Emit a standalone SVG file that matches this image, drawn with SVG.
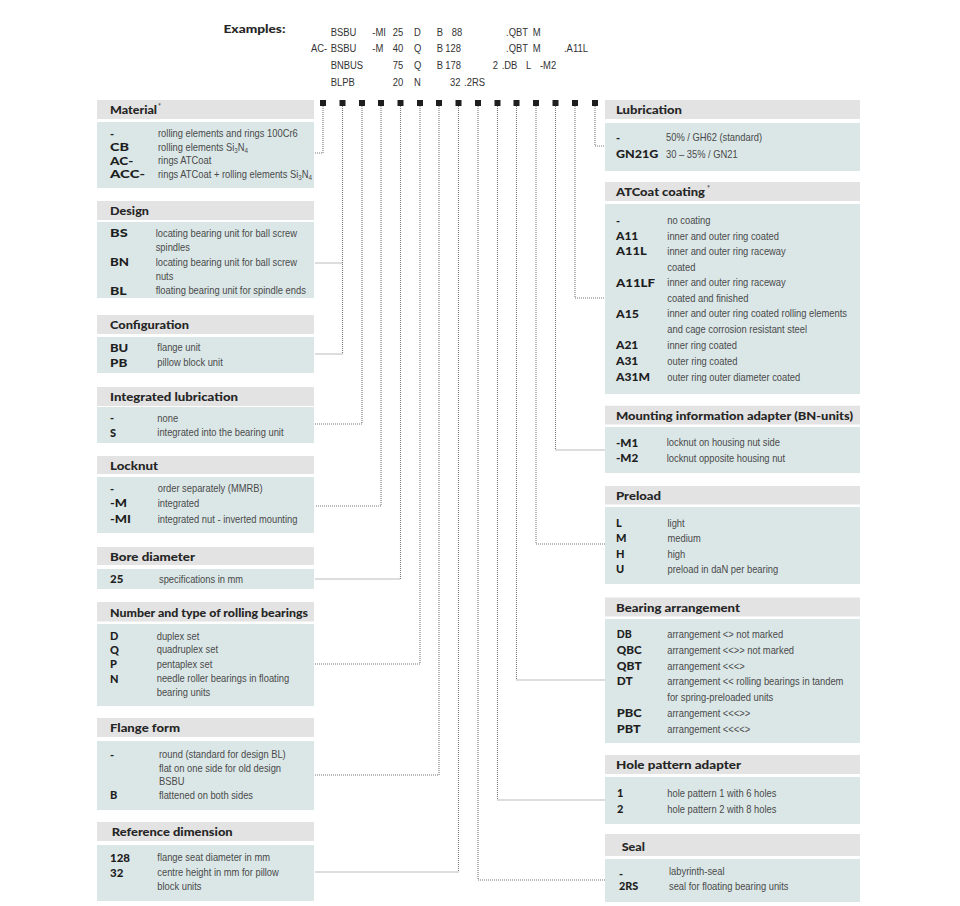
<svg xmlns="http://www.w3.org/2000/svg" width="960" height="906" viewBox="0 0 960 906">
<style>
.hd{fill:#e3e3e3}
.bd{fill:#dbe7e7}
.ht{font-family:Lato,"Open Sans","DejaVu Sans",sans-serif;font-weight:900;font-size:11px;fill:#262626}
.cd{font-family:Lato,"Open Sans","DejaVu Sans",sans-serif;font-weight:900;font-size:11px;fill:#1e1e1e}
.ds text{font-family:"Liberation Sans",Arial,sans-serif;font-size:10.4px;fill:#4a4a4a}
.ex{font-family:"Liberation Sans",Arial,sans-serif;font-size:11.5px;fill:#333}
.st{font-family:Lato,sans-serif;font-weight:900;font-size:7px;fill:#555}
.cn{stroke:#777;stroke-width:1.1;stroke-dasharray:1 1;fill:none}
.sq{fill:#1e1e1e}
</style>

<g id="examples">
<text x="223.5" y="33" class="ht" textLength="62" lengthAdjust="spacingAndGlyphs">Examples:</text>
<g transform="scale(0.82 1)">
<text class="ex" y="36"><tspan x="403.3">BSBU</tspan><tspan x="454">-MI</tspan><tspan x="478.9">25</tspan><tspan x="504.9">D</tspan><tspan x="532.6">B</tspan><tspan x="550.9">88</tspan><tspan x="617.1">.QBT</tspan><tspan x="649.6">M</tspan></text>
<text class="ex" y="52.5"><tspan x="379.3">AC-</tspan><tspan x="403.3">BSBU</tspan><tspan x="454">-M</tspan><tspan x="478.9">40</tspan><tspan x="504.9">Q</tspan><tspan x="532.6">B</tspan><tspan x="543">128</tspan><tspan x="617.1">.QBT</tspan><tspan x="649.6">M</tspan><tspan x="687.8">.A11L</tspan></text>
<text class="ex" y="69.5"><tspan x="403.3">BNBUS</tspan><tspan x="478.9">75</tspan><tspan x="504.9">Q</tspan><tspan x="532.6">B</tspan><tspan x="543">178</tspan><tspan x="600.9">2</tspan><tspan x="611.8">.DB</tspan><tspan x="641.5">L</tspan><tspan x="658.5">-M2</tspan></text>
<text class="ex" y="86"><tspan x="403.3">BLPB</tspan><tspan x="478.9">20</tspan><tspan x="504.9">N</tspan><tspan x="548.8">32</tspan><tspan x="565.9">.2RS</tspan></text>
</g>
</g>

<g id="connectors">
<path class="cn" d="M323 106V153H315"/>
<path class="cn" d="M342.5 106V354H315M342.5 263H315"/>
<path class="cn" d="M362 106V424H315"/>
<path class="cn" d="M381 106V506H315"/>
<path class="cn" d="M400.5 106V579H315"/>
<path class="cn" d="M420 106V664H315"/>
<path class="cn" d="M439 106V775H315"/>
<path class="cn" d="M458.5 106V872H315"/>
<path class="cn" d="M478 106V880H605"/>
<path class="cn" d="M497.5 106V800H605"/>
<path class="cn" d="M516.5 106V680H605"/>
<path class="cn" d="M536 106V544H605"/>
<path class="cn" d="M555.5 106V450H605"/>
<path class="cn" d="M575 106V298H605"/>
<path class="cn" d="M595 106V146H605"/>
<g class="sq">
<rect x="320" y="100" width="6" height="6"/><rect x="339.5" y="100" width="6" height="6"/><rect x="359" y="100" width="6" height="6"/><rect x="378" y="100" width="6" height="6"/><rect x="397.5" y="100" width="6" height="6"/><rect x="417" y="100" width="6" height="6"/><rect x="436" y="100" width="6" height="6"/><rect x="455.5" y="100" width="6" height="6"/><rect x="475" y="100" width="6" height="6"/><rect x="494.5" y="100" width="6" height="6"/><rect x="513.5" y="100" width="6" height="6"/><rect x="533" y="100" width="6" height="6"/><rect x="552.5" y="100" width="6" height="6"/><rect x="572" y="100" width="6" height="6"/><rect x="592" y="100" width="6" height="6"/>
</g>
</g>

<g id="material">
<rect class="hd" x="97" y="100" width="217" height="19"/>
<rect class="bd" x="97" y="122" width="217" height="66"/>
<text class="ht" x="110" y="114.3" textLength="47" lengthAdjust="spacingAndGlyphs">Material</text>
<text class="st" x="158" y="109">*</text>
<text class="cd" x="110" y="137.5">-</text>
<text class="cd" x="110" y="151" textLength="19" lengthAdjust="spacingAndGlyphs">CB</text>
<text class="cd" x="110" y="164.5" textLength="23.3" lengthAdjust="spacingAndGlyphs">AC-</text>
<text class="cd" x="110" y="178" textLength="35" lengthAdjust="spacingAndGlyphs">ACC-</text>
<g class="ds" transform="translate(158 0) scale(0.9 1)">
<text y="137.5">rolling elements and rings 100Cr6</text>
<text y="151">rolling elements Si<tspan font-size="7" dy="2">3</tspan><tspan dy="-2">N</tspan><tspan font-size="7" dy="2">4</tspan></text>
<text y="164.5">rings ATCoat</text>
<text y="178">rings ATCoat + rolling elements Si<tspan font-size="7" dy="2">3</tspan><tspan dy="-2">N</tspan><tspan font-size="7" dy="2">4</tspan></text>
</g>
</g>

<g id="design">
<rect class="hd" x="97" y="201" width="217" height="19"/>
<rect class="bd" x="97" y="222" width="217" height="76"/>
<text class="ht" x="110" y="215.3" textLength="39" lengthAdjust="spacingAndGlyphs">Design</text>
<text class="cd" x="110" y="237" textLength="17.7" lengthAdjust="spacingAndGlyphs">BS</text>
<text class="cd" x="110" y="266" textLength="19" lengthAdjust="spacingAndGlyphs">BN</text>
<text class="cd" x="110" y="294.5" textLength="16.7" lengthAdjust="spacingAndGlyphs">BL</text>
<g class="ds" transform="translate(155.7 0) scale(0.9 1)">
<text y="237">locating bearing unit for ball screw</text>
<text y="251.5">spindles</text>
<text y="266">locating bearing unit for ball screw</text>
<text y="280.5">nuts</text>
<text y="294.5">floating bearing unit for spindle ends</text>
</g>
</g>

<g id="configuration">
<rect class="hd" x="97" y="315" width="217" height="19"/>
<rect class="bd" x="97" y="337" width="217" height="36"/>
<text class="ht" x="110" y="329.3" textLength="79" lengthAdjust="spacingAndGlyphs">Configuration</text>
<text class="cd" x="110" y="351.5" textLength="18.3" lengthAdjust="spacingAndGlyphs">BU</text>
<text class="cd" x="110" y="366.5" textLength="17.3" lengthAdjust="spacingAndGlyphs">PB</text>
<g class="ds" transform="translate(157.3 0) scale(0.9 1)">
<text y="351.5">flange unit</text>
<text y="366.5">pillow block unit</text>
</g>
</g>

<g id="integrated-lubrication">
<rect class="hd" x="97" y="387" width="217" height="19"/>
<rect class="bd" x="97" y="407" width="217" height="36"/>
<text class="ht" x="110" y="401.3" textLength="128" lengthAdjust="spacingAndGlyphs">Integrated lubrication</text>
<text class="cd" x="110" y="421.7">-</text>
<text class="cd" x="110" y="436.5">S</text>
<g class="ds" transform="translate(157.3 0) scale(0.9 1)">
<text y="421.7">none</text>
<text y="436.5">integrated into the bearing unit</text>
</g>
</g>

<g id="locknut">
<rect class="hd" x="97" y="456" width="217" height="18"/>
<rect class="bd" x="97" y="477" width="217" height="56"/>
<text class="ht" x="110" y="469.8" textLength="48" lengthAdjust="spacingAndGlyphs">Locknut</text>
<text class="cd" x="110" y="492.5">-</text>
<text class="cd" x="110" y="507.3" textLength="17" lengthAdjust="spacingAndGlyphs">-M</text>
<text class="cd" x="110" y="523.3" textLength="21" lengthAdjust="spacingAndGlyphs">-MI</text>
<g class="ds" transform="translate(157.7 0) scale(0.9 1)">
<text y="492.5">order separately (MMRB)</text>
<text y="507.3">integrated</text>
<text y="523.3">integrated nut - inverted mounting</text>
</g>
</g>

<g id="bore-diameter">
<rect class="hd" x="97" y="547" width="217" height="18"/>
<rect class="bd" x="97" y="569" width="217" height="20"/>
<text class="ht" x="110" y="560.8" textLength="85" lengthAdjust="spacingAndGlyphs">Bore diameter</text>
<text class="cd" x="110" y="583.3" textLength="13.3" lengthAdjust="spacingAndGlyphs">25</text>
<g class="ds" transform="translate(159 0) scale(0.9 1)">
<text y="583.3">specifications in mm</text>
</g>
</g>

<g id="rolling-bearings">
<rect class="hd" x="97" y="602" width="217" height="19.5"/>
<rect class="bd" x="97" y="624" width="217" height="82"/>
<text class="ht" x="110" y="616.5" textLength="198" lengthAdjust="spacingAndGlyphs">Number and type of rolling bearings</text>
<text class="cd" x="110" y="640">D</text>
<text class="cd" x="110" y="653.5">Q</text>
<text class="cd" x="110" y="668.3">P</text>
<text class="cd" x="110" y="682.5">N</text>
<g class="ds" transform="translate(156.7 0) scale(0.9 1)">
<text y="640">duplex set</text>
<text y="653.5">quadruplex set</text>
<text y="668.3">pentaplex set</text>
<text y="682.5">needle roller bearings in floating</text>
<text y="696.5">bearing units</text>
</g>
</g>

<g id="flange-form">
<rect class="hd" x="97" y="718" width="217" height="19"/>
<rect class="bd" x="97" y="741" width="217" height="69"/>
<text class="ht" x="110" y="732.3" textLength="70" lengthAdjust="spacingAndGlyphs">Flange form</text>
<text class="cd" x="110" y="758.5">-</text>
<text class="cd" x="110" y="799">B</text>
<g class="ds" transform="translate(159 0) scale(0.9 1)">
<text y="758.5">round (standard for design BL)</text>
<text y="772">flat on one side for old design</text>
<text y="785.5">BSBU</text>
<text y="799">flattened on both sides</text>
</g>
</g>

<g id="reference-dimension">
<rect class="hd" x="97" y="822" width="217" height="19"/>
<rect class="bd" x="97" y="845" width="217" height="56"/>
<text class="ht" x="111.7" y="836.3" textLength="121" lengthAdjust="spacingAndGlyphs">Reference dimension</text>
<text class="cd" x="110" y="861.5" textLength="20" lengthAdjust="spacingAndGlyphs">128</text>
<text class="cd" x="110" y="876.5" textLength="13.3" lengthAdjust="spacingAndGlyphs">32</text>
<g class="ds" transform="translate(157.3 0) scale(0.9 1)">
<text y="861.5">flange seat diameter in mm</text>
<text y="876.5">centre height in mm for pillow</text>
<text y="890.5">block units</text>
</g>
</g>

<g id="lubrication">
<rect class="hd" x="605" y="100" width="255" height="19"/>
<rect class="bd" x="605" y="123" width="255" height="48"/>
<text class="ht" x="616" y="114.3" textLength="66" lengthAdjust="spacingAndGlyphs">Lubrication</text>
<text class="cd" x="616" y="141.5">-</text>
<text class="cd" x="616" y="158.3" textLength="42.3" lengthAdjust="spacingAndGlyphs">GN21G</text>
<g class="ds" transform="translate(666 0) scale(0.9 1)">
<text y="141.5">50% / GH62 (standard)</text>
<text y="158.3">30 – 35% / GN21</text>
</g>
</g>

<g id="atcoat-coating">
<rect class="hd" x="605" y="182" width="255" height="19"/>
<rect class="bd" x="605" y="204" width="255" height="190"/>
<text class="ht" x="616" y="196.3" textLength="89" lengthAdjust="spacingAndGlyphs">ATCoat coating</text>
<text class="st" x="707" y="191">*</text>
<text class="cd" x="616" y="224.5">-</text>
<text class="cd" x="616" y="240" textLength="22.3" lengthAdjust="spacingAndGlyphs">A11</text>
<text class="cd" x="616" y="255" textLength="30.7" lengthAdjust="spacingAndGlyphs">A11L</text>
<text class="cd" x="616" y="286.5" textLength="39" lengthAdjust="spacingAndGlyphs">A11LF</text>
<text class="cd" x="616" y="317.5" textLength="23" lengthAdjust="spacingAndGlyphs">A15</text>
<text class="cd" x="616" y="349.3" textLength="22.3" lengthAdjust="spacingAndGlyphs">A21</text>
<text class="cd" x="616" y="365" textLength="22.3" lengthAdjust="spacingAndGlyphs">A31</text>
<text class="cd" x="616" y="380.7" textLength="34" lengthAdjust="spacingAndGlyphs">A31M</text>
<g class="ds" transform="translate(667.3 0) scale(0.9 1)">
<text y="224.5">no coating</text>
<text y="240">inner and outer ring coated</text>
<text y="255">inner and outer ring raceway</text>
<text y="270.7">coated</text>
<text y="286.5">inner and outer ring raceway</text>
<text y="301.7">coated and finished</text>
<text y="317.5">inner and outer ring coated rolling elements</text>
<text y="333">and cage corrosion resistant steel</text>
<text y="349.3">inner ring coated</text>
<text y="365">outer ring coated</text>
<text y="380.7">outer ring outer diameter coated</text>
</g>
</g>

<g id="mounting-information">
<rect class="hd" x="605" y="405.7" width="255" height="18.8"/>
<rect class="bd" x="605" y="427" width="255" height="46"/>
<text class="ht" x="616" y="420" textLength="237" lengthAdjust="spacingAndGlyphs">Mounting information adapter (BN-units)</text>
<text class="cd" x="616" y="446.5" textLength="22.3" lengthAdjust="spacingAndGlyphs">-M1</text>
<text class="cd" x="616" y="461.7" textLength="22.3" lengthAdjust="spacingAndGlyphs">-M2</text>
<g class="ds" transform="translate(666.7 0) scale(0.9 1)">
<text y="446.5">locknut on housing nut side</text>
<text y="461.7">locknut opposite housing nut</text>
</g>
</g>

<g id="preload">
<rect class="hd" x="605" y="486" width="255" height="18.5"/>
<rect class="bd" x="605" y="507" width="255" height="77"/>
<text class="ht" x="616" y="500" textLength="45" lengthAdjust="spacingAndGlyphs">Preload</text>
<text class="cd" x="616" y="526.7">L</text>
<text class="cd" x="616" y="542.3">M</text>
<text class="cd" x="616" y="558.3">H</text>
<text class="cd" x="616" y="573.3">U</text>
<g class="ds" transform="translate(667.5 0) scale(0.9 1)">
<text y="526.7">light</text>
<text y="542.3">medium</text>
<text y="558.3">high</text>
<text y="573.3">preload in daN per bearing</text>
</g>
</g>

<g id="bearing-arrangement">
<rect class="hd" x="605" y="597.5" width="255" height="19"/>
<rect class="bd" x="605" y="619" width="255" height="124"/>
<text class="ht" x="616" y="611.5" textLength="124" lengthAdjust="spacingAndGlyphs">Bearing arrangement</text>
<text class="cd" x="616.7" y="638.3" textLength="15" lengthAdjust="spacingAndGlyphs">DB</text>
<text class="cd" x="616.7" y="654.3" textLength="25" lengthAdjust="spacingAndGlyphs">QBC</text>
<text class="cd" x="616.7" y="670" textLength="25" lengthAdjust="spacingAndGlyphs">QBT</text>
<text class="cd" x="616.7" y="685" textLength="16" lengthAdjust="spacingAndGlyphs">DT</text>
<text class="cd" x="616.7" y="717" textLength="25" lengthAdjust="spacingAndGlyphs">PBC</text>
<text class="cd" x="616.7" y="732.7" textLength="24" lengthAdjust="spacingAndGlyphs">PBT</text>
<g class="ds" transform="translate(667.3 0) scale(0.9 1)">
<text y="638.3">arrangement &lt;&gt; not marked</text>
<text y="654.3">arrangement &lt;&lt;&gt;&gt; not marked</text>
<text y="670">arrangement &lt;&lt;&lt;&gt;</text>
<text y="685">arrangement &lt;&lt; rolling bearings in tandem</text>
<text y="701">for spring-preloaded units</text>
<text y="717">arrangement &lt;&lt;&lt;&gt;&gt;</text>
<text y="732.7">arrangement &lt;&lt;&lt;&lt;&gt;</text>
</g>
</g>

<g id="hole-pattern-adapter">
<rect class="hd" x="605" y="755" width="255" height="19"/>
<rect class="bd" x="605" y="777" width="255" height="47"/>
<text class="ht" x="616" y="769.3" textLength="125" lengthAdjust="spacingAndGlyphs">Hole pattern adapter</text>
<text class="cd" x="617" y="796.7">1</text>
<text class="cd" x="617" y="812.7">2</text>
<g class="ds" transform="translate(667.3 0) scale(0.9 1)">
<text y="796.7">hole pattern 1 with 6 holes</text>
<text y="812.7">hole pattern 2 with 8 holes</text>
</g>
</g>

<g id="seal">
<rect class="hd" x="605" y="834" width="255" height="22"/>
<rect class="bd" x="605" y="859" width="255" height="43"/>
<text class="ht" x="621.7" y="850.5" textLength="23.3" lengthAdjust="spacingAndGlyphs">Seal</text>
<text class="cd" x="619" y="878">-</text>
<text class="cd" x="619" y="890" textLength="19.3" lengthAdjust="spacingAndGlyphs">2RS</text>
<g class="ds" transform="translate(669 0) scale(0.9 1)">
<text y="875">labyrinth-seal</text>
<text y="890">seal for floating bearing units</text>
</g>
</g>
</svg>
